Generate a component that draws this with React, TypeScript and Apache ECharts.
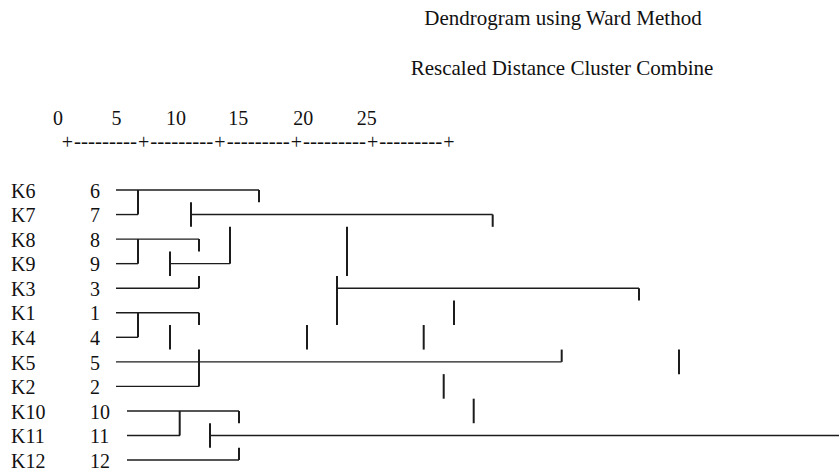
import React, { useEffect, useRef } from "react";
import * as echarts from "echarts";

// Row labels (top to bottom)
const rowNames = ["K6", "K7", "K8", "K9", "K3", "K1", "K4", "K5", "K2", "K10", "K11", "K12"];
const caseNumbers = ["6", "7", "8", "9", "3", "1", "4", "5", "2", "10", "11", "12"];

// Scale header
const scaleLabels = ["0", "5", "10", "15", "20", "25"];
const scaleTickCount = 6;

// Horizontal segments: [row, fromX, toX]  (x in character-column position units)
const hSegments: [number, number, number][] = [
  [0, 116, 259],
  [1, 116, 138],
  [1, 191, 492.7],
  [2, 116, 199],
  [3, 116, 138],
  [3, 170, 230],
  [4, 116, 199],
  [4, 337, 639],
  [5, 116, 199],
  [6, 116, 138],
  [7, 116, 561.7],
  [8, 116, 199],
  [9, 127, 239],
  [10, 127, 180],
  [10, 210, 839],
  [11, 127, 239],
];

// Vertical segments: [x, fromRow, toRow]
const vSegments: [number, number, number][] = [
  [138, 0, 1],
  [259, 0, 0.5],
  [191, 0.5, 1.5],
  [492.7, 1, 1.5],
  [138, 2, 3],
  [199, 2, 2.5],
  [230, 1.5, 3],
  [170, 2.5, 3.5],
  [347, 1.5, 3.5],
  [199, 3.5, 4],
  [337, 3.5, 5.5],
  [639, 4, 4.5],
  [454, 4.5, 5.5],
  [138, 5, 6],
  [199, 5, 5.5],
  [170, 5.5, 6.5],
  [307, 5.5, 6.5],
  [423.7, 5.5, 6.5],
  [561.7, 6.5, 7],
  [199, 6.5, 8],
  [679, 6.5, 7.5],
  [443.7, 7.5, 8.5],
  [473.7, 8.5, 9.5],
  [179.7, 9, 10],
  [239, 9, 9.5],
  [210, 9.5, 10.5],
  [239, 10.5, 11],
];

const FONT = '"Liberation Serif", "Times New Roman", serif';

export default function App() {
  const ref = useRef<HTMLDivElement>(null);

  useEffect(() => {
    if (!ref.current) return;
    const chart = echarts.init(ref.current, null, { renderer: "svg" });

    const segData = [
      ...hSegments.map(([r, a, b]) => [a, r, b, r, 0]),
      ...vSegments.map(([x, a, b]) => [x, a, x, b, 1]),
    ];

    // layout of header texts
    const scaleLabelX = [58, 116.5, 176, 238.3, 303.3, 366.7];
    const plusStart = 67.3;
    const plusStep = 76.34;

    const graphics: any[] = [
      {
        type: "text",
        x: 563,
        y: 18.3,
        style: {
          text: "Dendrogram using Ward Method",
          font: `21px ${FONT}`,
          fill: "#111",
          textAlign: "center",
          textVerticalAlign: "middle",
        },
      },
      {
        type: "text",
        x: 562,
        y: 68.3,
        style: {
          text: "Rescaled Distance Cluster Combine",
          font: `21px ${FONT}`,
          fill: "#111",
          textAlign: "center",
          textVerticalAlign: "middle",
        },
      },
    ];
    scaleLabels.forEach((t, i) => {
      graphics.push({
        type: "text",
        x: scaleLabelX[i],
        y: 117.5,
        style: {
          text: t,
          font: `20px ${FONT}`,
          fill: "#111",
          textAlign: "center",
          textVerticalAlign: "middle",
        },
      });
    });
    for (let i = 0; i < scaleTickCount; i++) {
      const cx = plusStart + i * plusStep;
      graphics.push({
        type: "text",
        x: cx,
        y: 141.8,
        style: {
          text: "+",
          font: `20px ${FONT}`,
          fill: "#111",
          textAlign: "center",
          textVerticalAlign: "middle",
        },
      });
      if (i < scaleTickCount - 1) {
        graphics.push({
          type: "text",
          x: cx + plusStep / 2,
          y: 140.8,
          style: {
            text: "---------",
            font: `21px ${FONT}`,
            fill: "#111",
            textAlign: "center",
            textVerticalAlign: "middle",
          },
        });
      }
    }

    chart.setOption({
      animation: false,
      backgroundColor: "#ffffff",
      grid: { left: 0, right: 0, top: 177.725, bottom: 2.675, containLabel: false },
      xAxis: { type: "value", min: 0, max: 839, show: false },
      yAxis: { type: "value", min: -0.5, max: 11.5, inverse: true, show: false },
      graphic: graphics,
      series: [
        {
          type: "custom",
          clip: false,
          encode: { x: [0, 2], y: [1, 3] },
          data: segData,
          renderItem: (params: any, api: any) => {
            const p1 = api.coord([api.value(0), api.value(1)]);
            const p2 = api.coord([api.value(2), api.value(3)]);
            const vertical = api.value(4) === 1;
            return {
              type: "line",
              shape: { x1: p1[0], y1: p1[1], x2: p2[0], y2: p2[1] },
              style: { stroke: "#1c1c1c", lineWidth: vertical ? 2 : 1.4 },
            };
          },
        },
        {
          type: "custom",
          clip: false,
          data: rowNames.map((_, i) => [0, i]),
          encode: { x: 0, y: 1 },
          renderItem: (params: any, api: any) => {
            const i = params.dataIndex;
            const y = api.coord([0, i])[1] + 0.7;
            return {
              type: "group",
              children: [
                {
                  type: "text",
                  x: 11,
                  y,
                  style: {
                    text: rowNames[i],
                    font: `20px ${FONT}`,
                    fill: "#111",
                    textAlign: "left",
                    textVerticalAlign: "middle",
                  },
                },
                {
                  type: "text",
                  x: 90,
                  y,
                  style: {
                    text: caseNumbers[i],
                    font: `20px ${FONT}`,
                    fill: "#111",
                    textAlign: "left",
                    textVerticalAlign: "middle",
                  },
                },
              ],
            };
          },
        },
      ],
    });

    return () => chart.dispose();
  }, []);

  return (
    <div
      ref={ref}
      style={{ position: "fixed", left: 0, top: 0, width: 839, height: 475, background: "#fff" }}
    />
  );
}
